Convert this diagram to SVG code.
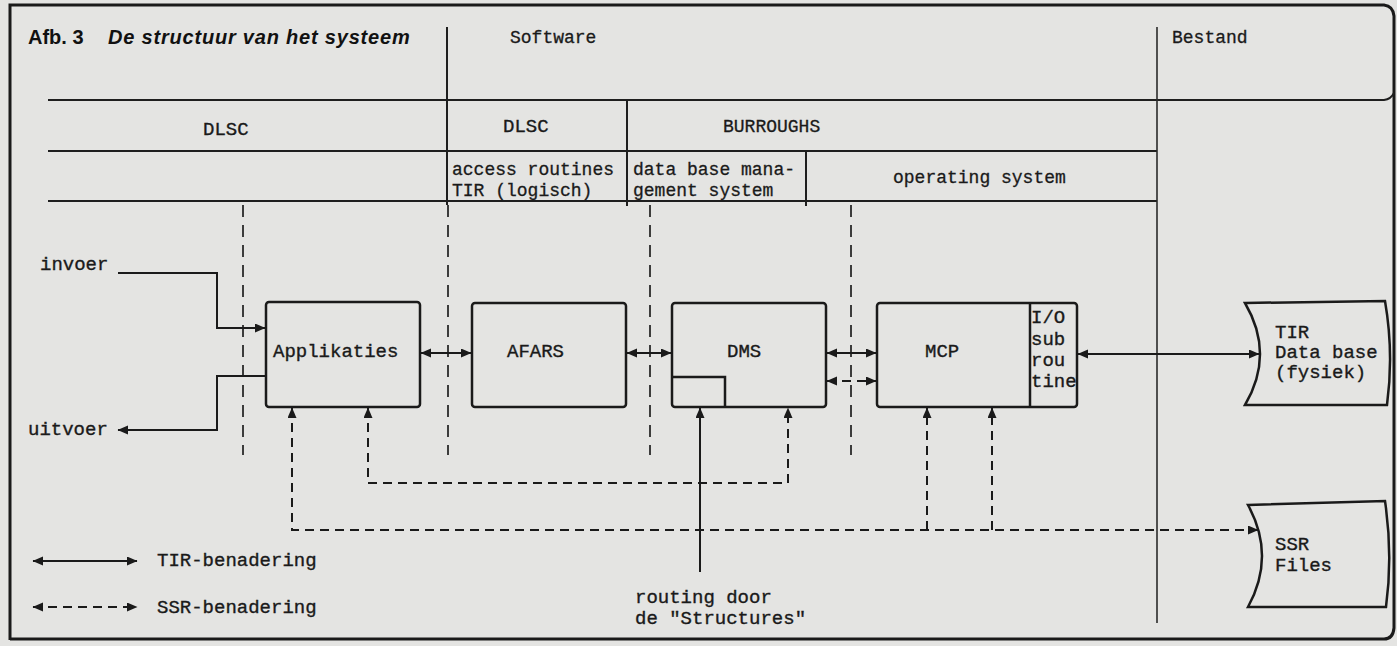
<svg xmlns="http://www.w3.org/2000/svg" width="1397" height="646" viewBox="0 0 1397 646">
<style>
.bg{fill:#e4e4e2}
.frame{fill:none;stroke:#1a1a1a;stroke-width:3}
.tab{fill:none;stroke:#1e1e1e;stroke-width:2}
.thin{fill:none;stroke:#2a2a2a;stroke-width:1.6}
.layer{fill:none;stroke:#2a2a2a;stroke-width:1.8;stroke-dasharray:12 8}
.box{fill:none;stroke:#1a1a1a;stroke-width:2.5}
.con{fill:none;stroke:#1a1a1a;stroke-width:2}
.dash{fill:none;stroke:#1a1a1a;stroke-width:2;stroke-dasharray:9 6}
.tw{font-family:"Liberation Mono","DejaVu Sans Mono",monospace;font-size:19px;fill:#1a1a1a;stroke:#1a1a1a;stroke-width:0.35}
.tws{font-family:"Liberation Mono","DejaVu Sans Mono",monospace;font-size:18px;fill:#1a1a1a;stroke:#1a1a1a;stroke-width:0.3}
.title{font-family:"Liberation Sans",Arial,sans-serif;font-weight:bold;font-size:20px;fill:#111}
</style>
<defs>
<marker id="ah" markerUnits="userSpaceOnUse" markerWidth="12" markerHeight="10" refX="10" refY="4.5" orient="auto-start-reverse" viewBox="0 0 12 10">
<path d="M0,0 L10.5,4.5 L0,9 Z" fill="#1a1a1a"/>
</marker>
</defs>
<rect class="bg" x="0" y="0" width="1397" height="646"/>

<g id="frame">
<path class="frame" d="M10,640 V5 H1384 Q1393,6 1394,16 V628 Q1393,639 1384,639 H10"/>
<path class="tab" d="M48,100 H1384 Q1391,99 1394,93"/>
<path class="tab" d="M48,151 H1157"/>
<path class="tab" d="M48,201 H1157"/>
<path class="tab" d="M447,27 V205"/>
<path class="tab" d="M627,100 V206"/>
<path class="tab" d="M806,151 V206"/>
<path class="thin" d="M1157,27 V623"/>
<path class="layer" d="M243,205 V455 M448,205 V455 M650,205 V455 M851,205 V455"/>
</g>

<g id="header">
<text class="title" x="28" y="44">Afb. 3</text>
<text class="title" x="108" y="44" font-style="italic" letter-spacing="0.8">De structuur van het systeem</text>
<text class="tws" x="510" y="43" font-size="17">Software</text>
<text class="tws" x="1172" y="43" font-size="17">Bestand</text>
<text class="tw" x="203" y="135">DLSC</text>
<text class="tw" x="503" y="132">DLSC</text>
<text class="tws" x="723" y="132">BURROUGHS</text>
<text class="tws" x="452" y="175">access routines</text>
<text class="tws" x="452" y="196">TIR (logisch)</text>
<text class="tws" x="633" y="175">data base mana-</text>
<text class="tws" x="633" y="196">gement system</text>
<text class="tws" x="893" y="183">operating system</text>
</g>

<g id="node-applikaties">
<rect class="box" x="266" y="302" width="154" height="105" rx="3"/>
<text class="tw" x="273" y="357">Applikaties</text>
</g>
<g id="node-afars">
<rect class="box" x="472" y="303" width="154" height="104" rx="3"/>
<text class="tw" x="507" y="357">AFARS</text>
</g>
<g id="node-dms">
<rect class="box" x="672" y="303" width="154" height="104" rx="3"/>
<path class="box" d="M672,377 H725 V407"/>
<text class="tw" x="727" y="357">DMS</text>
</g>
<g id="node-mcp">
<rect class="box" x="877" y="303" width="200" height="104" rx="3"/>
<path class="box" d="M1030,303 V407"/>
<text class="tw" x="925" y="357">MCP</text>
<text class="tw" x="1031" y="323">I/O</text>
<text class="tw" x="1031" y="345">sub</text>
<text class="tw" x="1031" y="366">rou</text>
<text class="tw" x="1031" y="387">tine</text>
</g>
<g id="node-tir-db">
<path class="box" d="M1245,303 L1385,301 Q1394,353 1387,405 L1245,405 Q1275,354 1245,303 Z"/>
<text class="tw" x="1275" y="338">TIR</text>
<text class="tw" x="1275" y="358">Data base</text>
<text class="tw" x="1275" y="378">(fysiek)</text>
</g>
<g id="node-ssr">
<path class="box" d="M1248,505 L1385,501 Q1393,555 1386,607 L1248,607 Q1276,556 1248,505 Z"/>
<text class="tw" x="1275" y="550">SSR</text>
<text class="tw" x="1275" y="571">Files</text>
</g>
<g id="labels">
<text class="tw" x="40" y="270">invoer</text>
<text class="tw" x="28" y="435">uitvoer</text>
<text class="tw" x="635" y="603">routing door</text>
<text class="tw" x="635" y="624">de "Structures"</text>
<text class="tw" x="157" y="566">TIR-benadering</text>
<text class="tw" x="157" y="613">SSR-benadering</text>
</g>

<g id="connectors">
<polyline class="con" points="118,273 217,273 217,328 265,328" marker-end="url(#ah)"/>
<polyline class="con" points="266,376 217,376 217,430 118,430" marker-end="url(#ah)"/>
<line class="con" x1="421" y1="353" x2="471" y2="353" marker-start="url(#ah)" marker-end="url(#ah)"/>
<line class="con" x1="627" y1="353" x2="671" y2="353" marker-start="url(#ah)" marker-end="url(#ah)"/>
<line class="con" x1="827" y1="353" x2="876" y2="353" marker-start="url(#ah)" marker-end="url(#ah)"/>
<line class="dash" x1="827" y1="381" x2="876" y2="381" marker-start="url(#ah)" marker-end="url(#ah)"/>
<line class="con" x1="1078" y1="354" x2="1259" y2="354" marker-start="url(#ah)" marker-end="url(#ah)"/>
<polyline class="dash" points="292,408 292,530 1258,530" marker-start="url(#ah)" marker-end="url(#ah)"/>
<polyline class="dash" points="368,408 368,483 788,483 788,408" marker-start="url(#ah)" marker-end="url(#ah)"/>
<polyline class="dash" points="927,530 927,408" marker-end="url(#ah)"/>
<polyline class="dash" points="992,530 992,408" marker-end="url(#ah)"/>
<polyline class="con" points="700,572 700,408" marker-end="url(#ah)"/>
<line class="con" x1="33" y1="561" x2="137" y2="561" marker-start="url(#ah)" marker-end="url(#ah)"/>
<line class="dash" x1="33" y1="607" x2="137" y2="607" marker-start="url(#ah)" marker-end="url(#ah)"/>
</g>
</svg>
